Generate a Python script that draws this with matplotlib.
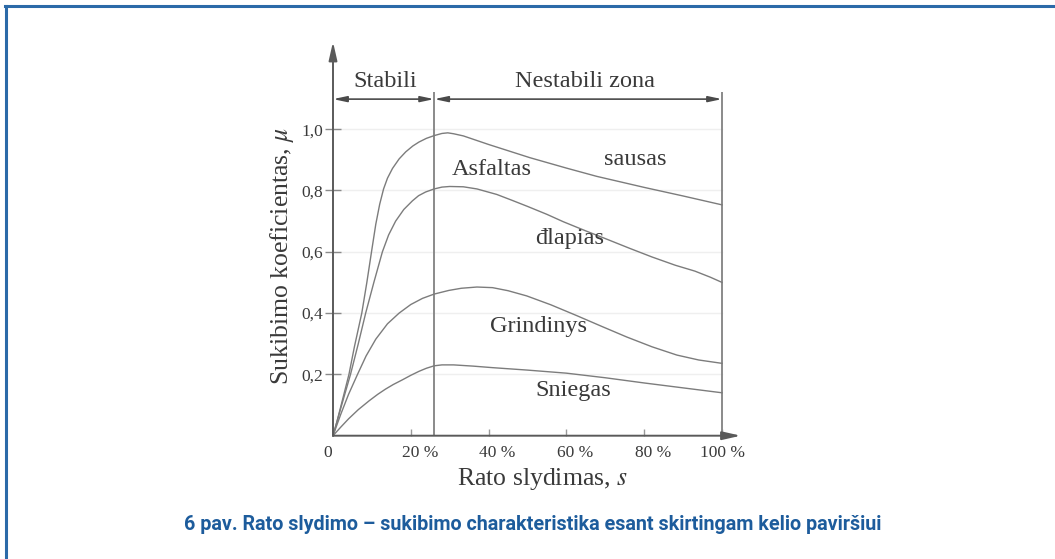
import matplotlib
matplotlib.use("Agg")
import matplotlib.pyplot as plt
from matplotlib.lines import Line2D
from matplotlib.transforms import ScaledTranslation

plt.rcParams['font.family'] = ['Liberation Serif', 'DejaVu Serif']
plt.rcParams['mathtext.fontset'] = 'stix'

# slip in %, adhesion coefficient
sausas_s = [0, 1, 2, 3, 4.1, 5.5, 7.4, 8.7, 9.9, 11, 12, 13, 14, 15.3, 17, 18.7, 20.5, 22.1, 24, 26,
            28, 29.5, 31, 33.5, 40, 50.6, 60, 67.8, 80, 90, 100]
sausas_mu = [0, 0.045, 0.095, 0.145, 0.2, 0.29, 0.4, 0.5, 0.6, 0.69, 0.755, 0.805, 0.84, 0.872, 0.903,
             0.926, 0.945, 0.958, 0.97, 0.979, 0.986, 0.988, 0.985, 0.978, 0.95, 0.907, 0.873, 0.846,
             0.81, 0.782, 0.753]

slapias_s = [0, 2, 4.5, 6.5, 8.4, 10.5, 12.7, 14.3, 16.1, 18.2, 20.4, 22, 23.8, 26, 28, 30, 33.5, 37,
             42.1, 46, 50, 55, 59.2, 65, 70, 76.3, 82, 88, 93, 97, 100]
slapias_mu = [0, 0.09, 0.2, 0.3, 0.4, 0.5, 0.6, 0.655, 0.70, 0.738, 0.766, 0.783, 0.795, 0.805, 0.811,
              0.813, 0.812, 0.805, 0.787, 0.768, 0.748, 0.722, 0.698, 0.668, 0.643, 0.611, 0.583, 0.556,
              0.537, 0.517, 0.5]

grind_s = [0, 2, 4, 6.3, 8.5, 11, 14, 17, 20, 23, 26, 29.8, 33, 37, 41, 45, 49.8, 56, 62.6, 69, 75.5,
           82, 88.4, 94, 100]
grind_mu = [0, 0.07, 0.135, 0.2, 0.26, 0.315, 0.365, 0.4, 0.428, 0.448, 0.462, 0.474, 0.481, 0.485,
            0.483, 0.473, 0.456, 0.427, 0.392, 0.357, 0.322, 0.29, 0.263, 0.247, 0.236]

sniegas_s = [0, 2, 4, 6.5, 9.3, 11.5, 13.5, 15.5, 17.8, 20, 22.1, 24, 26, 28, 31, 36, 41, 50, 60, 70,
             80, 90, 100]
sniegas_mu = [0, 0.028, 0.055, 0.085, 0.114, 0.135, 0.152, 0.167, 0.182, 0.197, 0.21, 0.22, 0.228,
              0.231, 0.231, 0.227, 0.222, 0.214, 0.204, 0.189, 0.172, 0.156, 0.14]

y_ticks = [0.2, 0.4, 0.6, 0.8, 1.0]
y_labels = ['0,2', '0,4', '0,6', '0,8', '1,0']
x_ticks = [0, 20, 40, 60, 80, 100]
x_labels = ['0', '20 %', '40 %', '60 %', '80 %', '100 %']

zone_edge = 26
txt = '#3a3a3a'
curve_c = '#7c7c7c'
axis_c = '#5a5a5a'
W, H = 1055, 559

fig = plt.figure(figsize=(W / 100, H / 100), dpi=100)
fig.patch.set_facecolor('white')

# blue frame (top and left only visible)
blue = '#2c6aa8'
fig.add_artist(Line2D([5 / W, 1], [1 - 6 / H, 1 - 6 / H], color=blue, lw=2.2, transform=fig.transFigure))
fig.add_artist(Line2D([6 / W, 6 / W], [0, 1 - 6 / H], color=blue, lw=2.2, transform=fig.transFigure))

ax = fig.add_axes([333 / W, (H - 435.7) / H, 408.5 / W, 398.5 / H])
ax.set_xlim(0, 105)
ax.set_ylim(0, 1.3)
for sp in ax.spines.values():
    sp.set_visible(False)
ax.patch.set_alpha(0)

# faint grid lines
for yv in y_ticks:
    ax.axhline(yv, xmin=0, xmax=100 / 105, color='#efefef', lw=1, zorder=0)

for xs, ys in [(sausas_s, sausas_mu), (slapias_s, slapias_mu), (grind_s, grind_mu), (sniegas_s, sniegas_mu)]:
    ax.plot(xs, ys, color=curve_c, lw=1.0, clip_on=False, zorder=3)

ax.vlines([zone_edge, 100], 0, 1.12, color='#8a8a8a', lw=1.4, zorder=2)

# axes with arrows
ax.annotate('', xy=(0, 1.285), xytext=(0, 0),
            arrowprops=dict(arrowstyle='-|>,head_length=1.1,head_width=0.25', color=axis_c, lw=1.4,
                            shrinkA=0, shrinkB=0), annotation_clip=False)
ax.annotate('', xy=(104.8, 0), xytext=(0, 0),
            arrowprops=dict(arrowstyle='-|>,head_length=1.1,head_width=0.25', color=axis_c, lw=1.4,
                            shrinkA=0, shrinkB=0), annotation_clip=False)

# zone arrows
zy = 1.098
for a, b in [(0, zone_edge), (zone_edge, 100)]:
    ax.annotate('', xy=(b, zy), xytext=(a, zy),
                arrowprops=dict(arrowstyle='<|-|>,head_length=0.8,head_width=0.17', color='#4a4a4a',
                                lw=1.2, shrinkA=0, shrinkB=0), annotation_clip=False)

ax.text(13.4, 1.155, 'Stabili', fontsize=17.5, color=txt, ha='center', va='center')
ax.text(64.8, 1.155, 'Nestabili zona', fontsize=17.5, color=txt, ha='center', va='center')

ax.text(77.6, 0.902, 'sausas', fontsize=17.5, color=txt, ha='center', va='center')
ax.text(40.8, 0.867, 'Asfaltas', fontsize=17.5, color=txt, ha='center', va='center')
ax.text(60.9, 0.644, 'đlapias', fontsize=17.5, color=txt, ha='center', va='center')
ax.text(52.8, 0.356, 'Grindinys', fontsize=17.5, color=txt, ha='center', va='center')
ax.text(61.8, 0.149, 'Sniegas', fontsize=17.5, color=txt, ha='center', va='center')

ax.set_yticks(y_ticks)
ax.set_yticklabels(y_labels)
ax.tick_params(axis='y', direction='inout', length=12, width=1, color='#8a8a8a',
               labelsize=12.5, labelcolor=txt, pad=1)
ax.set_xticks(x_ticks)
ax.set_xticklabels(x_labels)
ax.tick_params(axis='x', direction='in', length=5, width=1, color='#9a9a9a',
               labelsize=12.5, labelcolor=txt, pad=7)
# digits sit over the tick, the % sign hangs to the right
shifts = [-5, 9, 9, 9, 9, 0]
for lab, dx in zip(ax.get_xticklabels(), shifts):
    lab.set_transform(lab.get_transform() + ScaledTranslation(dx / 100, 0, fig.dpi_scale_trans))

fig.text(282.5 / W, 1 - 256 / H, r'Sukibimo koeficientas, $\mu$', rotation=90, fontsize=18.5,
         color=txt, ha='center', va='center')
fig.text(542 / W, 1 - 479 / H, r'Rato slydimas, $s$', fontsize=18.5, color=txt, ha='center', va='center')

fig.text(533 / W, 1 - 524 / H, '6 pav. Rato slydimo – sukibimo charakteristika esant skirtingam kelio paviršiui',
         family=['Roboto', 'DejaVu Sans'], fontweight='bold', fontsize=14.2,
         color='#1d5c9c', ha='center', va='center')

fig.savefig('out.png', dpi=100, facecolor='white')
